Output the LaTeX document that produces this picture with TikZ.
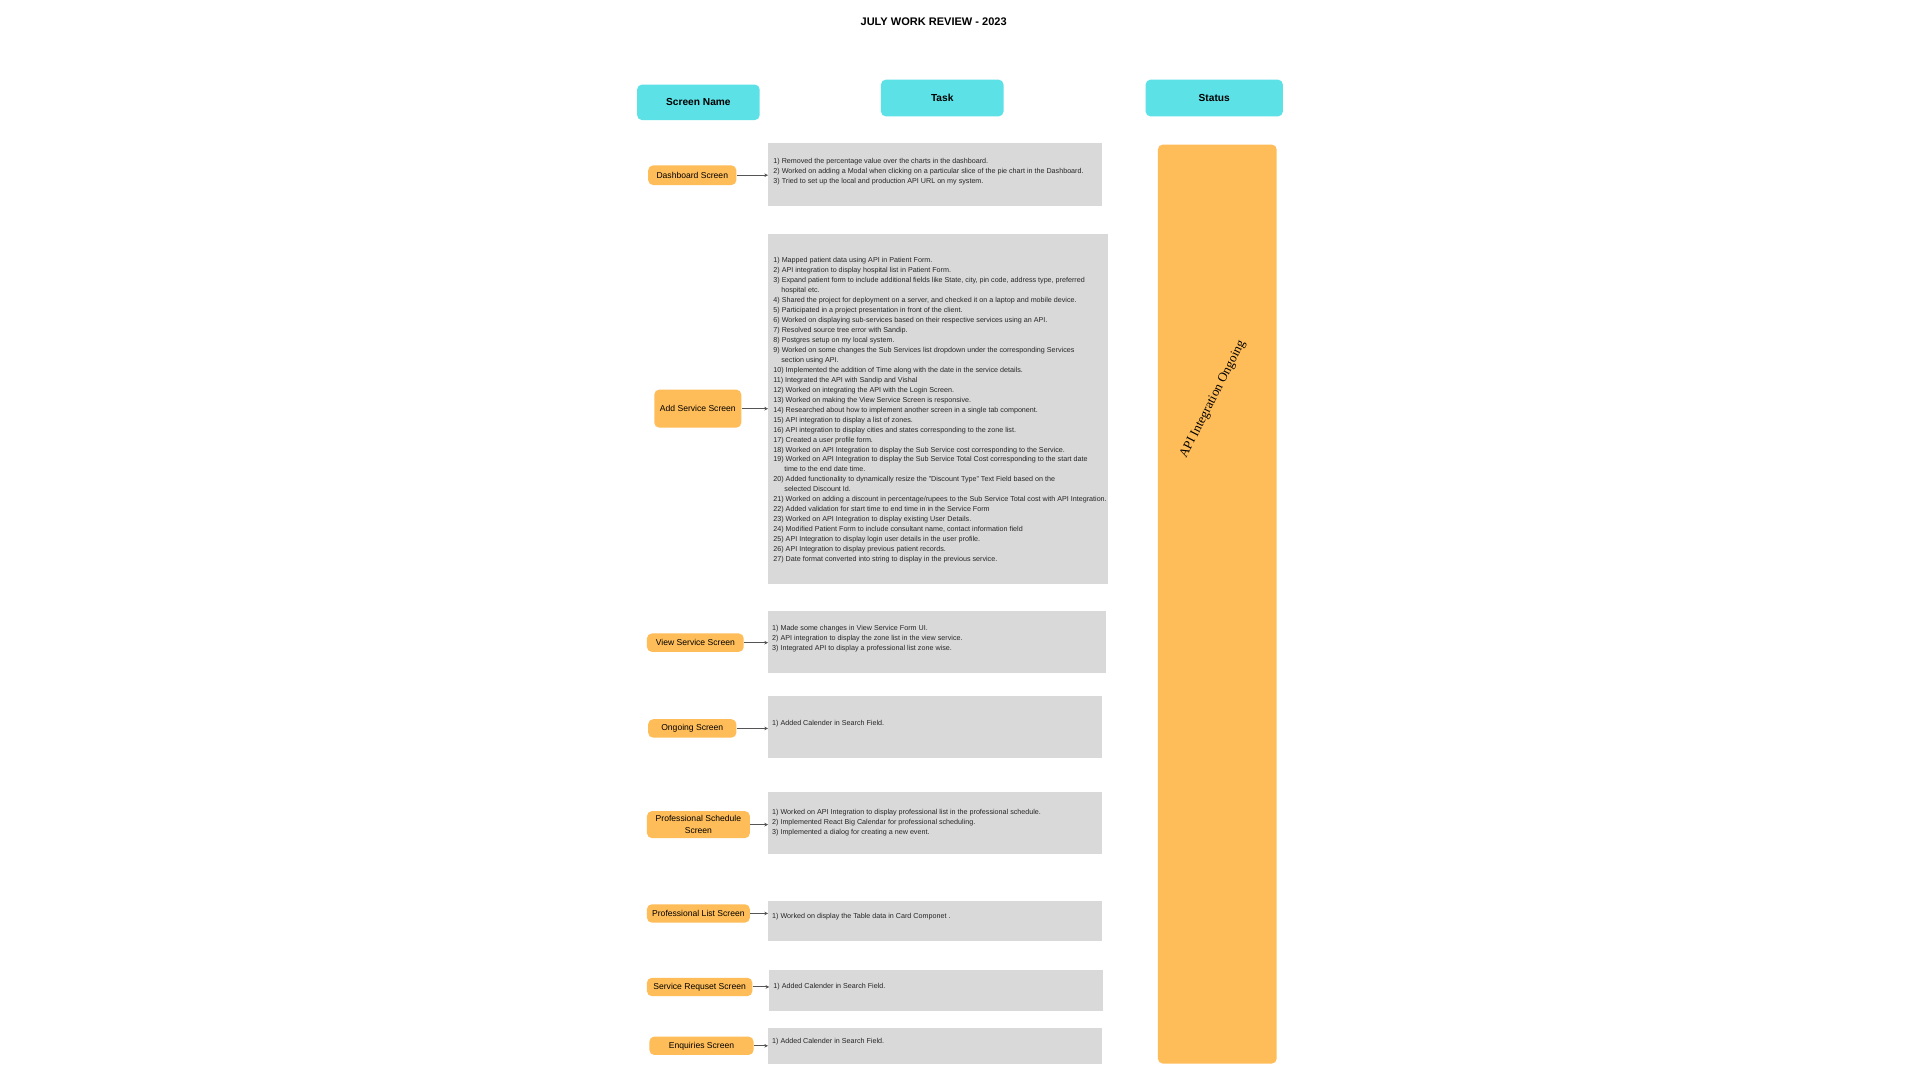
\documentclass[tikz,border=0pt]{standalone}
\usepackage{fontspec}
\setmainfont{Liberation Sans}
\newfontfamily\serifrot{Liberation Serif}
\usetikzlibrary{arrows.meta,calc}
\definecolor{hdrcyan}{HTML}{5CE1E6}
\definecolor{scrorange}{HTML}{FFBD59}
\definecolor{taskgray}{HTML}{D9D9D9}
\definecolor{conngray}{HTML}{555555}
\begin{document}
\begin{tikzpicture}[x=1pt,y=-1pt,
  hdr/.style={rectangle, rounded corners=4pt, fill=hdrcyan, inner sep=0pt, font=\fontsize{8.3}{9.5}\selectfont\bfseries},
  scr/.style={rectangle, rounded corners=4pt, fill=scrorange, inner sep=0pt, align=center, font=\fontsize{7}{10}\selectfont},
  tbox/.style={rectangle, fill=taskgray, inner sep=0pt},
  ttext/.style={anchor=north west, inner sep=0pt, align=left, font=\fontsize{5.85}{8.13}\selectfont, text=black!85},
  conn/.style={draw=conngray, line width=0.8pt, -{Stealth[length=3pt,width=3pt]}}
]
\useasboundingbox (0,0) rectangle (1567,881.4);
\fill[white] (0,0) rectangle (1567,881.4);

% title
\node[font=\fontsize{9}{10}\selectfont\bfseries] (title) at (762,18) {JULY WORK REVIEW - 2023};

% headers
\node[hdr, minimum width=100pt, minimum height=29pt] (hscr) at (570,83.5) {Screen Name};
\node[hdr, minimum width=100pt, minimum height=30pt] (htask) at (769,80) {Task};
\node[hdr, minimum width=112pt, minimum height=30pt] (hstat) at (991,80) {Status};

% status bar
\node[rectangle, rounded corners=4pt, fill=scrorange, minimum width=97pt, minimum height=750pt, inner sep=0pt] (status) at (993.5,493) {};
\node[rotate=63, font=\serifrot\fontsize{10.6}{12}\selectfont] (stext) at (990,326) {API Integration Ongoing};

% screen name boxes
\node[scr, minimum width=72pt, minimum height=16pt] (s1) at (565,143) {Dashboard Screen};
\node[scr, minimum width=71pt, minimum height=31pt] (s2) at (569.5,333.5) {Add Service Screen};
\node[scr, minimum width=79pt, minimum height=15pt] (s3) at (567.5,524.5) {View Service Screen};
\node[scr, minimum width=72pt, minimum height=15pt] (s4) at (565,594.5) {Ongoing Screen};
\node[scr, minimum width=84pt, minimum height=22pt] (s5) at (570,673) {Professional Schedule\\Screen};
\node[scr, minimum width=84pt, minimum height=15pt] (s6) at (570,745.5) {Professional List Screen};
\node[scr, minimum width=86pt, minimum height=15pt] (s7) at (571,805.5) {Service Requset Screen};
\node[scr, minimum width=85pt, minimum height=15pt] (s8) at (572.5,853.5) {Enquiries Screen};

% task boxes
\node[tbox, minimum width=272pt, minimum height=51pt] (t1) at (763,142.5) {};
\node[tbox, minimum width=277pt, minimum height=286pt] (t2) at (765.5,334) {};
\node[tbox, minimum width=276pt, minimum height=50pt] (t3) at (765,524) {};
\node[tbox, minimum width=272pt, minimum height=51pt] (t4) at (763,593.5) {};
\node[tbox, minimum width=272pt, minimum height=51pt] (t5) at (763,671.5) {};
\node[tbox, minimum width=272pt, minimum height=33pt] (t6) at (763,751.5) {};
\node[tbox, minimum width=272pt, minimum height=33pt] (t7) at (764,808.5) {};
\node[tbox, minimum width=272pt, minimum height=29pt] (t8) at (763,853.5) {};

% task texts
\node[ttext] (x1) at (631,129) {1) Removed the percentage value over the charts in the dashboard.\\
2) Worked on adding a Modal when clicking on a particular slice of the pie chart in the Dashboard.\\
3) Tried to set up the local and production API URL on my system.};

\node[ttext] (x2) at (631,210) {1) Mapped patient data using API in Patient Form.\\
2) API integration to display hospital list in Patient Form.\\
3) Expand patient form to include additional fields like State, city, pin code, address type, preferred\\
\hspace*{6.5pt}hospital etc.\\
4) Shared the project for deployment on a server, and checked it on a laptop and mobile device.\\
5) Participated in a project presentation in front of the client.\\
6) Worked on displaying sub-services based on their respective services using an API.\\
7) Resolved source tree error with Sandip.\\
8) Postgres setup on my local system.\\
9) Worked on some changes the Sub Services list dropdown under the corresponding Services\\
\hspace*{6.5pt}section using API.\\
10) Implemented the addition of Time along with the date in the service details.\\
11) Integrated the API with Sandip and Vishal\\
12) Worked on integrating the API with the Login Screen.\\
13) Worked on making the View Service Screen is responsive.\\
14) Researched about how to implement another screen in a single tab component.\\
15) API integration to display a list of zones.\\
16) API integration to display cities and states corresponding to the zone list.\\
17) Created a user profile form.\\
18) Worked on API Integration to display the Sub Service cost corresponding to the Service.\\
19) Worked on API Integration to display the Sub Service Total Cost corresponding to the start date\\
\hspace*{9pt}time to the end date time.\\
20) Added functionality to dynamically resize the "Discount Type" Text Field based on the\\
\hspace*{9pt}selected Discount Id.\\
21) Worked on adding a discount in percentage/rupees to the Sub Service Total cost with API Integration.\\
22) Added validation for start time to end time in in the Service Form\\
23) Worked on API Integration to display existing User Details.\\
24) Modified Patient Form to include consultant name, contact information field\\
25) API Integration to display login user details in the user profile.\\
26) API Integration to display previous patient records.\\
27) Date format converted into string to display in the previous service.};

\node[ttext] (x3) at (630,510) {1) Made some changes in View Service Form UI.\\
2) API integration to display the zone list in the view service.\\
3) Integrated API to display a professional list zone wise.};

\node[ttext] (x4) at (630,588) {1) Added Calender in Search Field.};

\node[ttext] (x5) at (630,660.5) {1) Worked on API Integration to display professional list in the professional schedule.\\
2) Implemented React Big Calendar for professional scheduling.\\
3) Implemented a dialog for creating a new event.};

\node[ttext] (x6) at (630,745) {1) Worked on display the Table data in Card Componet .};

\node[ttext] (x7) at (631,802) {1) Added Calender in Search Field.};

\node[ttext] (x8) at (630,847) {1) Added Calender in Search Field.};

% connectors
\foreach \i in {1,...,8}{
  \draw[conn] (s\i.east) -- (s\i.east -| t\i.west);
}
\end{tikzpicture}
\end{document}
